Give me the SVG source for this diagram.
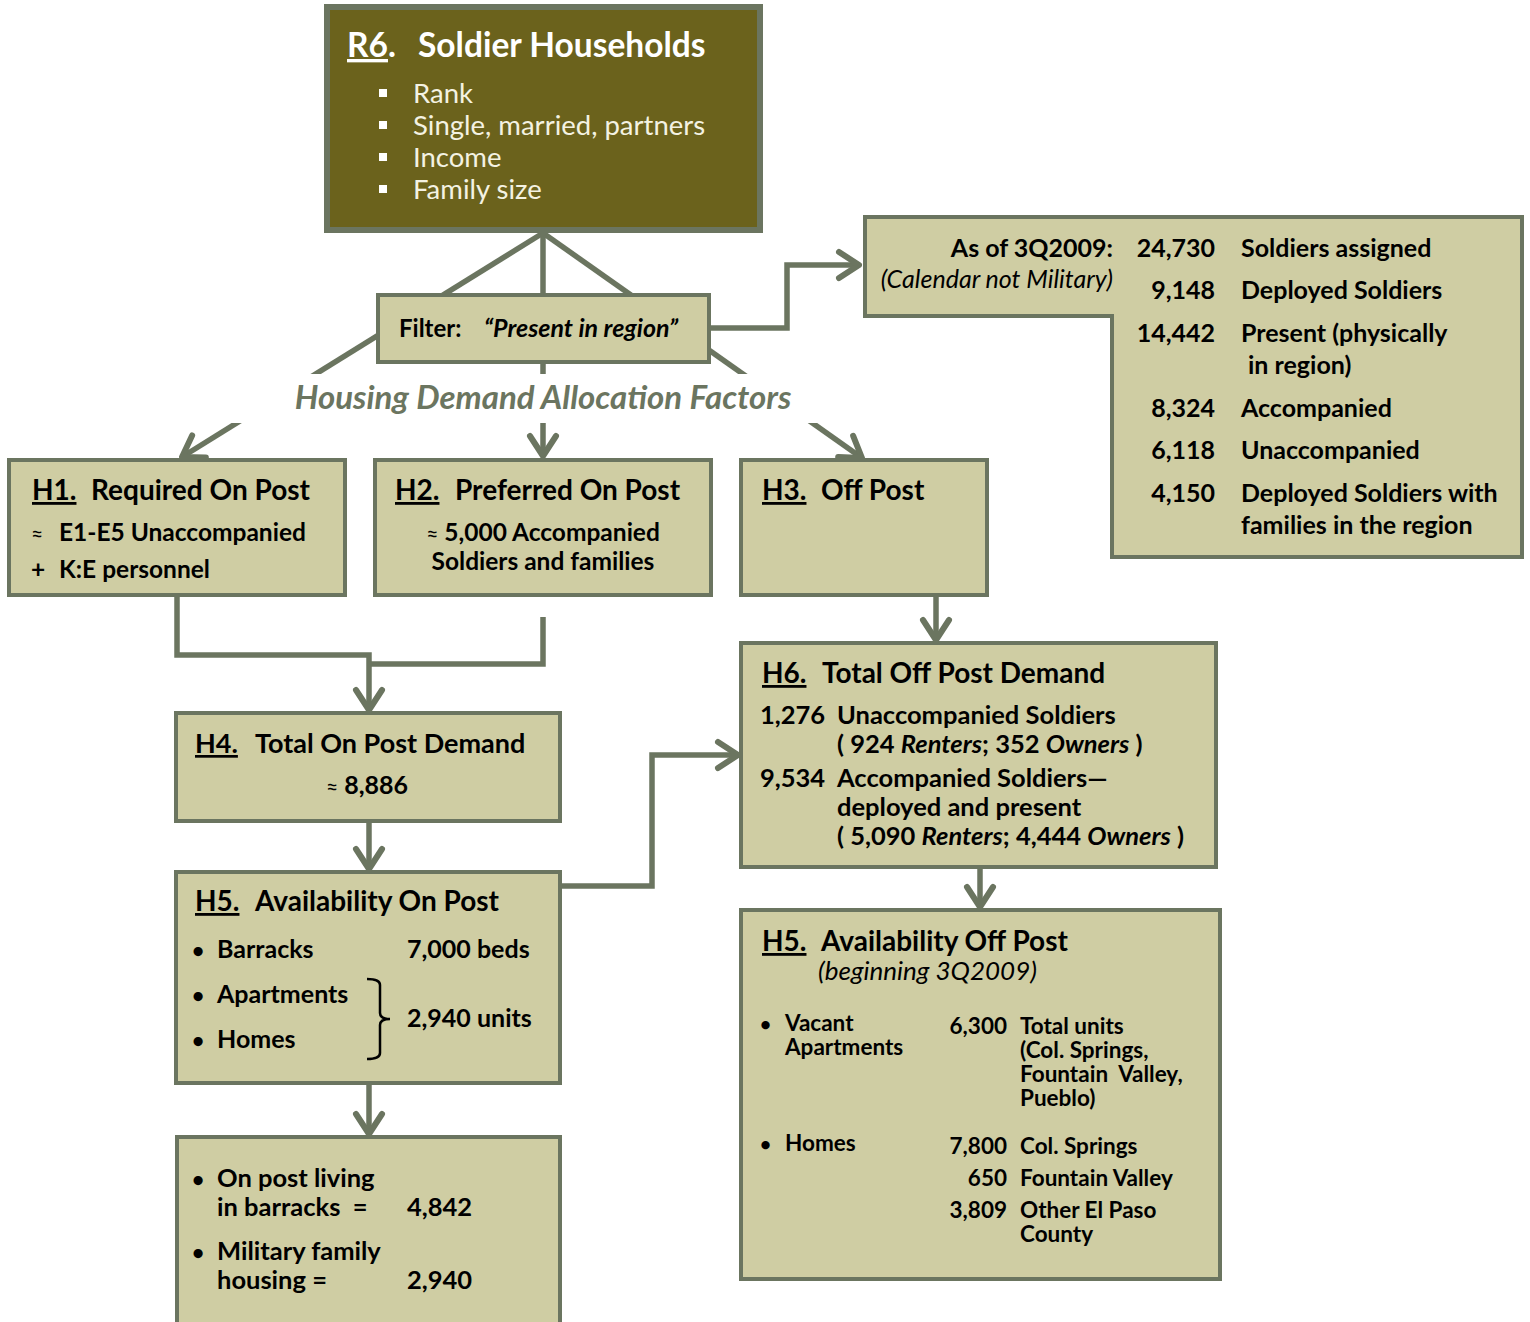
<svg xmlns="http://www.w3.org/2000/svg" width="1530" height="1322" viewBox="0 0 1530 1322">
<style>
text{font-family:Lato,"Open Sans","Liberation Sans",sans-serif;fill:#000}
.box{fill:#cfcda3;stroke:#6b7560;stroke-width:4}
.con{fill:none;stroke:#6b7560;stroke-width:5.5;stroke-linejoin:miter}
.ttl{font-size:28px;font-weight:bold}
.b{font-size:25px;font-weight:bold}
.s{font-size:24.5px;font-weight:bold}
.sm{font-size:22.5px;font-weight:bold}
.w{fill:#f4f2e2;font-size:27.5px}
.it{font-style:italic}
.u{text-decoration:underline}
.ap{font-size:21px;font-weight:normal}
</style>
<defs>
<marker id="arr" viewBox="-28 -18 34 36" refX="0" refY="0" markerWidth="34" markerHeight="36" markerUnits="userSpaceOnUse" orient="auto">
<path d="M-20,-13 L0,0 L-20,13" fill="none" stroke="#6b7560" stroke-width="6" stroke-linecap="round" stroke-linejoin="round"/>
</marker>
</defs>
<rect width="1530" height="1322" fill="#fff"/>
<g id="connectors">
<line class="con" x1="543" y1="233" x2="182" y2="457" marker-end="url(#arr)"/>
<line class="con" x1="543" y1="233" x2="862" y2="458" marker-end="url(#arr)"/>
<line class="con" x1="543" y1="233" x2="543" y2="456" marker-end="url(#arr)"/>
<polyline class="con" points="709,328 787,328 787,265 859,265" marker-end="url(#arr)"/>
<polyline class="con" points="177,597 177,655 369,655 369,710" marker-end="url(#arr)"/>
<polyline class="con" points="543,617 543,664 369,664"/>
<line class="con" x1="369" y1="821" x2="369" y2="869" marker-end="url(#arr)"/>
<line class="con" x1="369" y1="1083" x2="369" y2="1134" marker-end="url(#arr)"/>
<polyline class="con" points="560,886 652,886 652,755 738,755" marker-end="url(#arr)"/>
<line class="con" x1="936" y1="595" x2="936" y2="640" marker-end="url(#arr)"/>
<line class="con" x1="980" y1="867" x2="980" y2="907" marker-end="url(#arr)"/>
</g>
<g id="label-factors">
<rect x="200" y="374" width="640" height="49" fill="#fff"/>
<text x="543" y="409" text-anchor="middle" style="font-size:33px;font-weight:bold;font-style:italic;fill:#6b7560">Housing Demand Allocation Factors</text>
</g>
<g id="R6">
<rect x="327" y="7" width="433" height="223" fill="#6b621c" stroke="#6b7560" stroke-width="6"/>
<text x="347" y="57" style="font-size:33.5px;font-weight:bold;fill:#fff"><tspan class="u">R6</tspan>.</text>
<text x="418" y="57" style="font-size:33.5px;font-weight:bold;fill:#fff">Soldier Households</text>
<g fill="#fff">
<rect x="379" y="89" width="8" height="8"/>
<rect x="379" y="121" width="8" height="8"/>
<rect x="379" y="153" width="8" height="8"/>
<rect x="379" y="185" width="8" height="8"/>
</g>
<text class="w" x="413" y="103">Rank</text>
<text class="w" x="413" y="135">Single, married, partners</text>
<text class="w" x="413" y="167">Income</text>
<text class="w" x="413" y="199">Family size</text>
</g>
<g id="filter">
<rect class="box" x="378" y="295" width="331" height="67"/>
<text x="399" y="337" style="font-size:24px;font-weight:bold">Filter:</text>
<text x="484" y="337" style="font-size:25px;font-weight:bold;font-style:italic">“Present in region”</text>
</g>
<g id="stats">
<path class="box" d="M865,217 H1522 V557 H1112 V316 H865 Z"/>
<g style="font-size:25px;font-weight:bold">
<text x="1113" y="257" text-anchor="end">As of 3Q2009:</text>
<text x="1113" y="288" text-anchor="end" style="font-weight:normal;font-style:italic;font-size:25px">(Calendar not Military)</text>
<text x="1215" y="257" text-anchor="end">24,730</text>
<text x="1215" y="299" text-anchor="end">9,148</text>
<text x="1215" y="342" text-anchor="end">14,442</text>
<text x="1215" y="417" text-anchor="end">8,324</text>
<text x="1215" y="459" text-anchor="end">6,118</text>
<text x="1215" y="502" text-anchor="end">4,150</text>
<text x="1241" y="257">Soldiers assigned</text>
<text x="1241" y="299">Deployed Soldiers</text>
<text x="1241" y="342">Present (physically</text>
<text x="1248" y="374">in region)</text>
<text x="1241" y="417">Accompanied</text>
<text x="1241" y="459">Unaccompanied</text>
<text x="1241" y="502">Deployed Soldiers with</text>
<text x="1241" y="534">families in the region</text>
</g>
</g>
<g id="H1">
<rect class="box" x="9" y="460" width="336" height="135"/>
<text class="ttl u" x="32" y="500">H1.</text>
<text class="ttl" x="91" y="500">Required On Post</text>
<text class="ap" x="31" y="541">≈</text>
<text class="s" x="59" y="541">E1-E5 Unaccompanied</text>
<text class="s" x="31" y="578">+</text>
<text class="s" x="59" y="578">K:E personnel</text>
</g>
<g id="H2">
<rect class="box" x="375" y="460" width="336" height="135"/>
<text class="ttl u" x="395" y="500">H2.</text>
<text class="ttl" x="455" y="500">Preferred On Post</text>
<text class="s" x="543" y="541" text-anchor="middle"><tspan class="ap">≈</tspan> 5,000 Accompanied</text>
<text class="s" x="543" y="570" text-anchor="middle">Soldiers and families</text>
</g>
<g id="H3">
<rect class="box" x="741" y="460" width="246" height="135"/>
<text class="ttl u" x="762" y="500">H3.</text>
<text class="ttl" x="821" y="500">Off Post</text>
</g>
<g id="H4">
<rect class="box" x="176" y="713" width="384" height="108"/>
<text class="ttl u" x="195" y="753" style="font-size:27px">H4.</text>
<text class="ttl" x="255" y="753" style="font-size:27px">Total On Post Demand</text>
<text class="b" x="367" y="794" text-anchor="middle"><tspan class="ap">≈</tspan> 8,886</text>
</g>
<g id="H5-on">
<rect class="box" x="176" y="872" width="384" height="211"/>
<text class="ttl u" x="195" y="911">H5.</text>
<text class="ttl" x="255" y="911">Availability On Post</text>
<g class="b">
<text x="192" y="958" style="font-size:21px">•</text>
<text x="217" y="958">Barracks</text>
<text x="407" y="958">7,000 beds</text>
<text x="192" y="1003" style="font-size:21px">•</text>
<text x="217" y="1003">Apartments</text>
<text x="192" y="1048" style="font-size:21px">•</text>
<text x="217" y="1048">Homes</text>
<text x="407" y="1027">2,940 units</text>
</g>
<path d="M367,979 Q380,979 380,985 V1013 Q380,1019 390,1019 Q380,1019 380,1025 V1053 Q380,1059 367,1059" fill="none" stroke="#000" stroke-width="2.5"/>
</g>
<g id="H5-result">
<rect class="box" x="177" y="1137" width="383" height="195"/>
<g class="b" style="font-size:25.5px">
<text x="192" y="1187" style="font-size:21px">•</text>
<text x="217" y="1187">On post living</text>
<text x="217" y="1216" xml:space="preserve">in barracks  =</text>
<text x="407" y="1216">4,842</text>
<text x="192" y="1260" style="font-size:21px">•</text>
<text x="217" y="1260">Military family</text>
<text x="217" y="1289">housing =</text>
<text x="407" y="1289">2,940</text>
</g>
</g>
<g id="H6">
<rect class="box" x="741" y="643" width="475" height="224"/>
<text class="ttl u" x="762" y="683">H6.</text>
<text class="ttl" x="822" y="683">Total Off Post Demand</text>
<g class="b" style="font-size:25.5px">
<text x="760" y="724">1,276</text>
<text x="837" y="724">Unaccompanied Soldiers</text>
<text x="837" y="753">( 924 <tspan class="it">Renters</tspan>; 352 <tspan class="it">Owners</tspan> )</text>
<text x="760" y="787">9,534</text>
<text x="837" y="787">Accompanied Soldiers—</text>
<text x="837" y="816">deployed and present</text>
<text x="837" y="845">( 5,090 <tspan class="it">Renters</tspan>; 4,444 <tspan class="it">Owners</tspan> )</text>
</g>
</g>
<g id="H5-off">
<rect class="box" x="741" y="910" width="479" height="369"/>
<text class="ttl u" x="762" y="951">H5.</text>
<text class="ttl" x="821" y="951">Availability Off Post</text>
<text x="818" y="980" style="font-size:26px;font-style:italic">(beginning 3Q2009)</text>
<g class="sm">
<text x="760" y="1031" style="font-size:19px">•</text>
<text x="785" y="1031">Vacant</text>
<text x="785" y="1055">Apartments</text>
<text x="1007" y="1034" text-anchor="end">6,300</text>
<text x="1020" y="1034">Total units</text>
<text x="1020" y="1058">(Col. Springs,</text>
<text x="1020" y="1082" xml:space="preserve">Fountain  Valley,</text>
<text x="1020" y="1106">Pueblo)</text>
<text x="760" y="1151" style="font-size:19px">•</text>
<text x="785" y="1151">Homes</text>
<text x="1007" y="1154" text-anchor="end">7,800</text>
<text x="1020" y="1154">Col. Springs</text>
<text x="1007" y="1186" text-anchor="end">650</text>
<text x="1020" y="1186">Fountain Valley</text>
<text x="1007" y="1218" text-anchor="end">3,809</text>
<text x="1020" y="1218">Other El Paso</text>
<text x="1020" y="1242">County</text>
</g>
</g>
</svg>
